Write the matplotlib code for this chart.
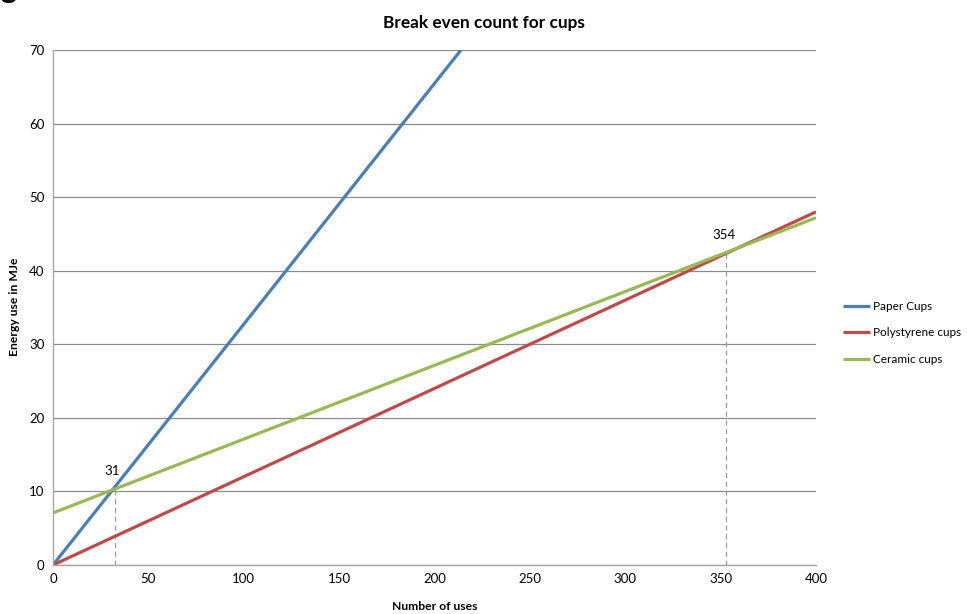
import matplotlib.pyplot as plt

plt.rcParams['font.family'] = ['Lato', 'DejaVu Sans']

# data (straight lines, so two end points each)
uses = [0, 400]
paper_cups = [0, 130.9]
polystyrene_cups = [0, 48.0]
ceramic_cups = [7.08, 47.2]

# break even points (where the lines cross) and their labels
be_uses = [32.5, 353]
be_energy = [10.5, 42.5]
be_labels = ['31', '354']

fig = plt.figure(figsize=(9.67, 6.14), dpi=100)
ax = fig.add_axes([0.0548, 0.0798, 0.789, 0.8388])

ax.plot(uses, paper_cups, color='#4A7EBB', lw=2.3, label='Paper Cups', solid_capstyle='butt')
ax.plot(uses, polystyrene_cups, color='#BE4B48', lw=2.3, label='Polystyrene cups', solid_capstyle='butt')
ax.plot(uses, ceramic_cups, color='#98B954', lw=2.3, label='Ceramic cups', solid_capstyle='butt')

# dashed drop lines + labels at the break even points
for x, y, t in zip(be_uses, be_energy, be_labels):
    ax.plot([x, x], [0, y], color='#999999', lw=0.9, ls=(0, (4, 3)), zorder=1)
    ax.annotate(t, (x, y), xytext=(-2, 8), textcoords='offset points',
                ha='center', va='bottom', fontsize=9.5)

ax.set_xlim(0, 400)
ax.set_ylim(0, 70)
ax.set_xticks(range(0, 401, 50))
ax.set_yticks(range(0, 71, 10))
ax.tick_params(length=0, labelsize=9.5, pad=6)
ax.grid(axis='y', color='#8c8c8c', lw=0.9)
ax.set_axisbelow(True)
for s in ['top', 'right']:
    ax.spines[s].set_visible(False)
for s in ['left', 'bottom']:
    ax.spines[s].set_color('#a6a6a6')
    ax.spines[s].set_linewidth(1.0)

fig.text(0.5, 0.963, 'Break even count for cups', ha='center', va='center',
         fontsize=12.4, fontweight='bold')
fig.text(0.45, 0.013, 'Number of uses', ha='center', va='center',
         fontsize=8.7, fontweight='bold')
fig.text(0.015, 0.5, 'Energy use in MJe', ha='center', va='center',
         rotation=90, fontsize=8.7, fontweight='bold')
# cut-off heading from the page above
fig.text(0.0, 1.003, 'g', ha='left', va='baseline', fontsize=22, fontweight='bold')

fig.legend(loc='center left', bbox_to_anchor=(0.872, 0.458), frameon=False,
           borderpad=0, borderaxespad=0, fontsize=8.5, handlelength=2.3,
           handletextpad=0.2, labelspacing=1.3)

fig.savefig('out.png', dpi=100)
